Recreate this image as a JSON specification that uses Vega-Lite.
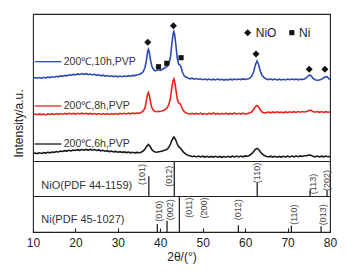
{
"$schema": "https://vega.github.io/schema/vega-lite/v6.json",
"width": 297, "height": 218,
"autosize": {"type": "none"},
"padding": {"left": 33, "top": 14, "right": 19, "bottom": 40},
"config": {"font": "Liberation Sans", "view": {"stroke": "#222", "strokeWidth": 1.1}},
"datasets": {
"xrd": [
{"s":"10h","x":10,"y":153.5},{"s":"10h","x":10.5,"y":154.5},{"s":"10h","x":11,"y":153.8},{"s":"10h","x":11.5,"y":154.4},{"s":"10h","x":12,"y":153.6},{"s":"10h","x":12.5,"y":154.7},{"s":"10h","x":13,"y":154.1},{"s":"10h","x":13.5,"y":155.0},{"s":"10h","x":14,"y":154.4},{"s":"10h","x":14.5,"y":155.2},{"s":"10h","x":15,"y":154.8},{"s":"10h","x":15.5,"y":155.7},{"s":"10h","x":16,"y":155.2},{"s":"10h","x":16.5,"y":156.1},{"s":"10h","x":17,"y":155.8},{"s":"10h","x":17.5,"y":156.6},{"s":"10h","x":18,"y":156.2},{"s":"10h","x":18.5,"y":157.2},{"s":"10h","x":19,"y":156.8},{"s":"10h","x":19.5,"y":157.6},{"s":"10h","x":20,"y":157.1},{"s":"10h","x":20.5,"y":158.1},{"s":"10h","x":21,"y":157.5},{"s":"10h","x":21.5,"y":158.4},{"s":"10h","x":22,"y":157.7},{"s":"10h","x":22.5,"y":158.3},{"s":"10h","x":23,"y":157.4},{"s":"10h","x":23.5,"y":158.0},{"s":"10h","x":24,"y":157.1},{"s":"10h","x":24.5,"y":157.7},{"s":"10h","x":25,"y":156.7},{"s":"10h","x":25.5,"y":157.2},{"s":"10h","x":26,"y":156.2},{"s":"10h","x":26.5,"y":156.8},{"s":"10h","x":27,"y":155.9},{"s":"10h","x":27.5,"y":156.4},{"s":"10h","x":28,"y":155.6},{"s":"10h","x":28.5,"y":156.2},{"s":"10h","x":29,"y":155.4},{"s":"10h","x":29.5,"y":156.0},{"s":"10h","x":30,"y":155.2},{"s":"10h","x":30.5,"y":155.9},{"s":"10h","x":31,"y":155.3},{"s":"10h","x":31.5,"y":156.0},{"s":"10h","x":32,"y":155.5},{"s":"10h","x":32.5,"y":156.3},{"s":"10h","x":33,"y":155.8},{"s":"10h","x":33.5,"y":156.6},{"s":"10h","x":34,"y":156.4},{"s":"10h","x":34.5,"y":157.3},{"s":"10h","x":35,"y":157.5},{"s":"10h","x":35.5,"y":158.4},{"s":"10h","x":36,"y":160.5},{"s":"10h","x":36.4,"y":164.5},{"s":"10h","x":36.7,"y":171},{"s":"10h","x":37.0,"y":180},{"s":"10h","x":37.2,"y":182.7},{"s":"10h","x":37.4,"y":180},{"s":"10h","x":37.7,"y":172},{"s":"10h","x":38.0,"y":166},{"s":"10h","x":38.4,"y":162.5},{"s":"10h","x":38.8,"y":161.2},{"s":"10h","x":39.2,"y":161.8},{"s":"10h","x":39.6,"y":162.2},{"s":"10h","x":40.0,"y":161.7},{"s":"10h","x":40.4,"y":162.5},{"s":"10h","x":40.8,"y":163.5},{"s":"10h","x":41.2,"y":164.5},{"s":"10h","x":41.6,"y":165.5},{"s":"10h","x":42.0,"y":168},{"s":"10h","x":42.4,"y":175},{"s":"10h","x":42.7,"y":187},{"s":"10h","x":43.0,"y":197.5},{"s":"10h","x":43.2,"y":200.3},{"s":"10h","x":43.4,"y":197},{"s":"10h","x":43.7,"y":186},{"s":"10h","x":44.0,"y":174},{"s":"10h","x":44.3,"y":168},{"s":"10h","x":44.6,"y":167},{"s":"10h","x":44.9,"y":165},{"s":"10h","x":45.2,"y":160},{"s":"10h","x":45.6,"y":156.5},{"s":"10h","x":46.0,"y":155},{"s":"10h","x":46.5,"y":154},{"s":"10h","x":47,"y":153.2},{"s":"10h","x":47.5,"y":153.8},{"s":"10h","x":48,"y":152.8},{"s":"10h","x":48.5,"y":153.4},{"s":"10h","x":49,"y":152.5},{"s":"10h","x":49.5,"y":153.2},{"s":"10h","x":50,"y":152.3},{"s":"10h","x":50.5,"y":153.0},{"s":"10h","x":51,"y":152.2},{"s":"10h","x":51.5,"y":152.9},{"s":"10h","x":52,"y":152.0},{"s":"10h","x":52.5,"y":152.8},{"s":"10h","x":53,"y":152.1},{"s":"10h","x":53.5,"y":152.9},{"s":"10h","x":54,"y":152.2},{"s":"10h","x":54.5,"y":152.7},{"s":"10h","x":55,"y":151.9},{"s":"10h","x":55.5,"y":152.6},{"s":"10h","x":56,"y":152.0},{"s":"10h","x":56.5,"y":152.8},{"s":"10h","x":57,"y":152.2},{"s":"10h","x":57.5,"y":152.9},{"s":"10h","x":58,"y":152.3},{"s":"10h","x":58.5,"y":153.0},{"s":"10h","x":59,"y":152.4},{"s":"10h","x":59.5,"y":153.1},{"s":"10h","x":60,"y":152.6},{"s":"10h","x":60.5,"y":153.0},{"s":"10h","x":61,"y":153.5},{"s":"10h","x":61.5,"y":155.5},{"s":"10h","x":62,"y":160},{"s":"10h","x":62.4,"y":167},{"s":"10h","x":62.8,"y":171},{"s":"10h","x":63.2,"y":167},{"s":"10h","x":63.6,"y":160.5},{"s":"10h","x":64.0,"y":156.5},{"s":"10h","x":64.5,"y":154.2},{"s":"10h","x":65,"y":153},{"s":"10h","x":65.5,"y":152.4},{"s":"10h","x":66,"y":153.0},{"s":"10h","x":66.5,"y":152.2},{"s":"10h","x":67,"y":152.9},{"s":"10h","x":67.5,"y":152.1},{"s":"10h","x":68,"y":152.8},{"s":"10h","x":68.5,"y":152.0},{"s":"10h","x":69,"y":152.7},{"s":"10h","x":69.5,"y":152.1},{"s":"10h","x":70,"y":152.9},{"s":"10h","x":70.5,"y":152.3},{"s":"10h","x":71,"y":153.0},{"s":"10h","x":71.5,"y":152.4},{"s":"10h","x":72,"y":152.9},{"s":"10h","x":72.5,"y":152.2},{"s":"10h","x":73,"y":152.8},{"s":"10h","x":73.5,"y":152.6},{"s":"10h","x":74,"y":153},{"s":"10h","x":74.5,"y":154.5},{"s":"10h","x":75.0,"y":156.5},{"s":"10h","x":75.3,"y":157},{"s":"10h","x":75.6,"y":156},{"s":"10h","x":76.0,"y":153.5},{"s":"10h","x":76.5,"y":152.2},{"s":"10h","x":77,"y":151.8},{"s":"10h","x":77.5,"y":152},{"s":"10h","x":78,"y":152.7},{"s":"10h","x":78.5,"y":154.2},{"s":"10h","x":79.0,"y":155.2},{"s":"10h","x":79.3,"y":155.3},{"s":"10h","x":79.6,"y":154},{"s":"10h","x":80,"y":152},
{"s":"8h","x":10,"y":117.2},{"s":"8h","x":10.5,"y":118.0},{"s":"8h","x":11,"y":117.3},{"s":"8h","x":11.5,"y":118.1},{"s":"8h","x":12,"y":117.4},{"s":"8h","x":12.5,"y":117.9},{"s":"8h","x":13,"y":117.1},{"s":"8h","x":13.5,"y":118.2},{"s":"8h","x":14,"y":117.5},{"s":"8h","x":14.5,"y":118.3},{"s":"8h","x":15,"y":117.6},{"s":"8h","x":15.5,"y":118.4},{"s":"8h","x":16,"y":117.7},{"s":"8h","x":16.5,"y":118.5},{"s":"8h","x":17,"y":117.8},{"s":"8h","x":17.5,"y":118.6},{"s":"8h","x":18,"y":117.9},{"s":"8h","x":18.5,"y":118.7},{"s":"8h","x":19,"y":118.0},{"s":"8h","x":19.5,"y":118.6},{"s":"8h","x":20,"y":117.9},{"s":"8h","x":20.5,"y":118.7},{"s":"8h","x":21,"y":118.1},{"s":"8h","x":21.5,"y":118.8},{"s":"8h","x":22,"y":118.0},{"s":"8h","x":22.5,"y":118.7},{"s":"8h","x":23,"y":117.9},{"s":"8h","x":23.5,"y":118.6},{"s":"8h","x":24,"y":117.8},{"s":"8h","x":24.5,"y":118.5},{"s":"8h","x":25,"y":117.7},{"s":"8h","x":25.5,"y":118.4},{"s":"8h","x":26,"y":117.6},{"s":"8h","x":26.5,"y":118.4},{"s":"8h","x":27,"y":117.5},{"s":"8h","x":27.5,"y":118.3},{"s":"8h","x":28,"y":117.6},{"s":"8h","x":28.5,"y":118.4},{"s":"8h","x":29,"y":117.7},{"s":"8h","x":29.5,"y":118.5},{"s":"8h","x":30,"y":117.8},{"s":"8h","x":30.5,"y":118.6},{"s":"8h","x":31,"y":118.0},{"s":"8h","x":31.5,"y":118.7},{"s":"8h","x":32,"y":118.1},{"s":"8h","x":32.5,"y":118.8},{"s":"8h","x":33,"y":118.2},{"s":"8h","x":33.5,"y":118.9},{"s":"8h","x":34,"y":118.4},{"s":"8h","x":34.5,"y":119.0},{"s":"8h","x":35,"y":118.7},{"s":"8h","x":35.5,"y":119.5},{"s":"8h","x":36,"y":121},{"s":"8h","x":36.4,"y":124},{"s":"8h","x":36.7,"y":131},{"s":"8h","x":37.0,"y":137.5},{"s":"8h","x":37.2,"y":139.5},{"s":"8h","x":37.4,"y":137},{"s":"8h","x":37.7,"y":130},{"s":"8h","x":38.0,"y":124.5},{"s":"8h","x":38.4,"y":121.5},{"s":"8h","x":38.8,"y":120.5},{"s":"8h","x":39.2,"y":120.2},{"s":"8h","x":39.6,"y":120.7},{"s":"8h","x":40.0,"y":120.5},{"s":"8h","x":40.5,"y":121.2},{"s":"8h","x":41.0,"y":122},{"s":"8h","x":41.5,"y":123.5},{"s":"8h","x":42.0,"y":127},{"s":"8h","x":42.4,"y":134},{"s":"8h","x":42.7,"y":144},{"s":"8h","x":43.0,"y":151},{"s":"8h","x":43.2,"y":153},{"s":"8h","x":43.4,"y":150},{"s":"8h","x":43.7,"y":142},{"s":"8h","x":44.0,"y":133},{"s":"8h","x":44.3,"y":129},{"s":"8h","x":44.6,"y":128.5},{"s":"8h","x":44.9,"y":126.5},{"s":"8h","x":45.2,"y":123},{"s":"8h","x":45.6,"y":120.5},{"s":"8h","x":46,"y":119.2},{"s":"8h","x":46.5,"y":118.4},{"s":"8h","x":47,"y":118.0},{"s":"8h","x":47.5,"y":118.7},{"s":"8h","x":48,"y":117.9},{"s":"8h","x":48.5,"y":118.6},{"s":"8h","x":49,"y":117.8},{"s":"8h","x":49.5,"y":118.9},{"s":"8h","x":50,"y":117.7},{"s":"8h","x":50.5,"y":118.5},{"s":"8h","x":51,"y":117.6},{"s":"8h","x":51.5,"y":118.8},{"s":"8h","x":52,"y":117.8},{"s":"8h","x":52.5,"y":119.0},{"s":"8h","x":53,"y":117.9},{"s":"8h","x":53.5,"y":118.6},{"s":"8h","x":54,"y":117.6},{"s":"8h","x":54.5,"y":118.7},{"s":"8h","x":55,"y":117.8},{"s":"8h","x":55.5,"y":118.9},{"s":"8h","x":56,"y":117.7},{"s":"8h","x":56.5,"y":118.6},{"s":"8h","x":57,"y":117.9},{"s":"8h","x":57.5,"y":119.1},{"s":"8h","x":58,"y":117.8},{"s":"8h","x":58.5,"y":118.7},{"s":"8h","x":59,"y":117.9},{"s":"8h","x":59.5,"y":118.8},{"s":"8h","x":60,"y":118.1},{"s":"8h","x":60.5,"y":118.4},{"s":"8h","x":61,"y":119},{"s":"8h","x":61.5,"y":120},{"s":"8h","x":62,"y":122.5},{"s":"8h","x":62.4,"y":125.5},{"s":"8h","x":62.8,"y":126.5},{"s":"8h","x":63.2,"y":125},{"s":"8h","x":63.6,"y":122},{"s":"8h","x":64,"y":120},{"s":"8h","x":64.5,"y":119},{"s":"8h","x":65,"y":119.4},{"s":"8h","x":65.5,"y":120.0},{"s":"8h","x":66,"y":119.2},{"s":"8h","x":66.5,"y":120.1},{"s":"8h","x":67,"y":119.3},{"s":"8h","x":67.5,"y":120.2},{"s":"8h","x":68,"y":119.4},{"s":"8h","x":68.5,"y":120.0},{"s":"8h","x":69,"y":119.2},{"s":"8h","x":69.5,"y":120.1},{"s":"8h","x":70,"y":119.4},{"s":"8h","x":70.5,"y":120.2},{"s":"8h","x":71,"y":119.5},{"s":"8h","x":71.5,"y":120.3},{"s":"8h","x":72,"y":119.6},{"s":"8h","x":72.5,"y":120.4},{"s":"8h","x":73,"y":119.8},{"s":"8h","x":73.5,"y":120.4},{"s":"8h","x":74,"y":120.0},{"s":"8h","x":74.5,"y":120.5},{"s":"8h","x":75,"y":121.4},{"s":"8h","x":75.5,"y":121.7},{"s":"8h","x":76,"y":120.6},{"s":"8h","x":76.5,"y":119.8},{"s":"8h","x":77,"y":120.4},{"s":"8h","x":77.5,"y":119.7},{"s":"8h","x":78,"y":120.4},{"s":"8h","x":78.5,"y":119.6},{"s":"8h","x":79,"y":120.3},{"s":"8h","x":79.5,"y":119.8},{"s":"8h","x":80,"y":120.0},
{"s":"6h","x":10,"y":78.3},{"s":"6h","x":10.5,"y":79.0},{"s":"6h","x":11,"y":78.4},{"s":"6h","x":11.5,"y":79.2},{"s":"6h","x":12,"y":78.6},{"s":"6h","x":12.5,"y":79.4},{"s":"6h","x":13,"y":78.9},{"s":"6h","x":13.5,"y":79.7},{"s":"6h","x":14,"y":79.2},{"s":"6h","x":14.5,"y":80.0},{"s":"6h","x":15,"y":79.6},{"s":"6h","x":15.5,"y":80.4},{"s":"6h","x":16,"y":80.0},{"s":"6h","x":16.5,"y":80.9},{"s":"6h","x":17,"y":80.5},{"s":"6h","x":17.5,"y":81.3},{"s":"6h","x":18,"y":80.9},{"s":"6h","x":18.5,"y":81.7},{"s":"6h","x":19,"y":81.2},{"s":"6h","x":19.5,"y":82.0},{"s":"6h","x":20,"y":81.5},{"s":"6h","x":20.5,"y":82.3},{"s":"6h","x":21,"y":81.7},{"s":"6h","x":21.5,"y":82.5},{"s":"6h","x":22,"y":81.8},{"s":"6h","x":22.5,"y":82.6},{"s":"6h","x":23,"y":81.9},{"s":"6h","x":23.5,"y":82.6},{"s":"6h","x":24,"y":81.8},{"s":"6h","x":24.5,"y":82.4},{"s":"6h","x":25,"y":81.5},{"s":"6h","x":25.5,"y":82.1},{"s":"6h","x":26,"y":81.2},{"s":"6h","x":26.5,"y":81.7},{"s":"6h","x":27,"y":80.8},{"s":"6h","x":27.5,"y":81.3},{"s":"6h","x":28,"y":80.4},{"s":"6h","x":28.5,"y":80.9},{"s":"6h","x":29,"y":80.1},{"s":"6h","x":29.5,"y":80.6},{"s":"6h","x":30,"y":79.8},{"s":"6h","x":30.5,"y":80.3},{"s":"6h","x":31,"y":79.6},{"s":"6h","x":31.5,"y":80.1},{"s":"6h","x":32,"y":79.4},{"s":"6h","x":32.5,"y":79.9},{"s":"6h","x":33,"y":79.2},{"s":"6h","x":33.5,"y":79.7},{"s":"6h","x":34,"y":79.1},{"s":"6h","x":34.5,"y":79.6},{"s":"6h","x":35,"y":79.2},{"s":"6h","x":35.5,"y":79.7},{"s":"6h","x":36,"y":81},{"s":"6h","x":36.4,"y":83},{"s":"6h","x":36.8,"y":85.7},{"s":"6h","x":37.2,"y":87.5},{"s":"6h","x":37.6,"y":85.5},{"s":"6h","x":38.0,"y":82.5},{"s":"6h","x":38.4,"y":80.8},{"s":"6h","x":38.8,"y":80},{"s":"6h","x":39.2,"y":79.8},{"s":"6h","x":39.6,"y":80.3},{"s":"6h","x":40,"y":80.5},{"s":"6h","x":40.5,"y":81},{"s":"6h","x":41,"y":81.7},{"s":"6h","x":41.5,"y":82.5},{"s":"6h","x":42,"y":84.5},{"s":"6h","x":42.4,"y":88},{"s":"6h","x":42.8,"y":92.5},{"s":"6h","x":43.2,"y":95},{"s":"6h","x":43.6,"y":92.5},{"s":"6h","x":44.0,"y":88},{"s":"6h","x":44.3,"y":85.5},{"s":"6h","x":44.6,"y":84.5},{"s":"6h","x":45.0,"y":82.5},{"s":"6h","x":45.4,"y":80},{"s":"6h","x":46,"y":78},{"s":"6h","x":46.5,"y":76.8},{"s":"6h","x":47,"y":76.2},{"s":"6h","x":47.5,"y":75.3},{"s":"6h","x":48,"y":76.0},{"s":"6h","x":48.5,"y":75.1},{"s":"6h","x":49,"y":75.9},{"s":"6h","x":49.5,"y":75.0},{"s":"6h","x":50,"y":75.8},{"s":"6h","x":50.5,"y":74.9},{"s":"6h","x":51,"y":75.7},{"s":"6h","x":51.5,"y":74.8},{"s":"6h","x":52,"y":75.6},{"s":"6h","x":52.5,"y":74.9},{"s":"6h","x":53,"y":75.7},{"s":"6h","x":53.5,"y":74.8},{"s":"6h","x":54,"y":75.6},{"s":"6h","x":54.5,"y":74.7},{"s":"6h","x":55,"y":75.5},{"s":"6h","x":55.5,"y":74.8},{"s":"6h","x":56,"y":75.7},{"s":"6h","x":56.5,"y":74.9},{"s":"6h","x":57,"y":75.8},{"s":"6h","x":57.5,"y":75.0},{"s":"6h","x":58,"y":75.9},{"s":"6h","x":58.5,"y":75.1},{"s":"6h","x":59,"y":76.0},{"s":"6h","x":59.5,"y":75.2},{"s":"6h","x":60,"y":76.1},{"s":"6h","x":60.5,"y":75.8},{"s":"6h","x":61,"y":76.5},{"s":"6h","x":61.5,"y":78},{"s":"6h","x":62,"y":80.5},{"s":"6h","x":62.4,"y":82.7},{"s":"6h","x":62.8,"y":83.5},{"s":"6h","x":63.2,"y":82.5},{"s":"6h","x":63.6,"y":80},{"s":"6h","x":64,"y":78},{"s":"6h","x":64.5,"y":76.5},{"s":"6h","x":65,"y":75.7},{"s":"6h","x":65.5,"y":75.0},{"s":"6h","x":66,"y":75.8},{"s":"6h","x":66.5,"y":74.9},{"s":"6h","x":67,"y":75.7},{"s":"6h","x":67.5,"y":74.8},{"s":"6h","x":68,"y":75.6},{"s":"6h","x":68.5,"y":74.9},{"s":"6h","x":69,"y":75.7},{"s":"6h","x":69.5,"y":75.0},{"s":"6h","x":70,"y":75.8},{"s":"6h","x":70.5,"y":75.1},{"s":"6h","x":71,"y":75.9},{"s":"6h","x":71.5,"y":75.2},{"s":"6h","x":72,"y":76.0},{"s":"6h","x":72.5,"y":75.3},{"s":"6h","x":73,"y":76.1},{"s":"6h","x":73.5,"y":75.5},{"s":"6h","x":74,"y":76.2},{"s":"6h","x":74.5,"y":76.3},{"s":"6h","x":75,"y":77.0},{"s":"6h","x":75.5,"y":76.8},{"s":"6h","x":76,"y":75.8},{"s":"6h","x":76.5,"y":75.2},{"s":"6h","x":77,"y":75.9},{"s":"6h","x":77.5,"y":75.1},{"s":"6h","x":78,"y":75.8},{"s":"6h","x":78.5,"y":75.2},{"s":"6h","x":79,"y":75.9},{"s":"6h","x":79.5,"y":75.3},{"s":"6h","x":80,"y":75.6}
],
"ref": [
{"x":37.3,"y":35.5,"y2":55.7},{"x":43.3,"y":35.5,"y2":70.5},{"x":62.85,"y":35.5,"y2":49},{"x":75.3,"y":35.5,"y2":42.3},{"x":79.3,"y":35.5,"y2":41.7},
{"x":39.3,"y":0,"y2":8},{"x":41.6,"y":0,"y2":11.3},{"x":44.5,"y":0,"y2":35.5},{"x":58.4,"y":0,"y2":6.7},{"x":70.9,"y":0,"y2":6.3},{"x":77.9,"y":0,"y2":5.7}
],
"hkl": [
{"x":35.6,"y":57.5,"t":"(101)"},{"x":42.0,"y":55.7,"t":"(012)"},{"x":62.7,"y":59,"t":"(110)"},{"x":75.9,"y":48,"t":"(113)"},{"x":79.2,"y":51.5,"t":"(202)"},
{"x":39.6,"y":20.7,"t":"(010)"},{"x":42.2,"y":22.3,"t":"(002)"},{"x":46.7,"y":24.3,"t":"(011)"},{"x":50.4,"y":24,"t":"(200)"},{"x":58.2,"y":22.3,"t":"(012)"},{"x":71.6,"y":17.3,"t":"(110)"},{"x":78.4,"y":17.3,"t":"(013)"}
],
"panels": [
{"x":11.96,"y":46,"t":"NiO(PDF 44-1159)"},{"x":11.96,"y":12,"t":"Ni(PDF 45-1027)"}
],
"legend": [
{"s":"10h","x":10.4,"x2":16.7,"y":170.3,"tx":17.25,"t":"200℃,10h,PVP"},
{"s":"8h","x":10.4,"x2":16.7,"y":126,"tx":17.25,"t":"200℃,8h,PVP"},
{"s":"6h","x":10.4,"x2":16.7,"y":88,"tx":17.25,"t":"200℃,6h,PVP"}
],
"peaks": [
{"p":"NiO","x":37.06,"y":189.7},{"p":"NiO","x":43.1,"y":206.3},{"p":"NiO","x":62.56,"y":178},{"p":"NiO","x":75.1,"y":162.7},{"p":"NiO","x":78.8,"y":162.7},
{"p":"Ni","x":39.58,"y":165.3},{"p":"Ni","x":41.53,"y":168.7},{"p":"Ni","x":44.9,"y":174.3},
{"p":"NiO","x":60.6,"y":199.3},{"p":"Ni","x":71.0,"y":199.3}
],
"keys": [
{"x":62.5,"y":199.3,"t":"NiO"},{"x":72.7,"y":199.3,"t":"Ni"}
]
},
"layer": [
{
"data": {"name": "xrd"},
"mark": {"type": "line", "strokeWidth": 1.6, "clip": true},
"encoding": {
"x": {"field": "x", "type": "quantitative", "scale": {"domain": [10, 80], "nice": false, "zero": false},
 "axis": {"values": [10,20,30,40,50,60,70,80], "grid": false, "domain": false, "tickSize": -4, "tickColor": "#222", "tickWidth": 1.1, "labelPadding": 9, "labelFlush": false, "labelFontSize": 12, "labelColor": "#222", "title": "2θ/(°)", "titleFontSize": 12, "titleFontWeight": "normal", "titleColor": "#222", "titleY": 24, "titleBaseline": "middle"}},
"y": {"field": "y", "type": "quantitative", "scale": {"domain": [0, 218], "nice": false, "zero": false},
 "axis": {"labels": false, "ticks": false, "domain": false, "grid": false, "title": "Intensity/a.u.", "titleFontSize": 12, "titleFontWeight": "normal", "titleColor": "#222", "titlePadding": 8}},
"color": {"field": "s", "type": "nominal", "scale": {"domain": ["10h","8h","6h"], "range": ["#2b4cb3","#e8261e","#1a1a1a"]}, "legend": null},
"order": {"field": "x", "type": "quantitative"}
}
},
{
"data": {"values": [{"y": 70.5}, {"y": 35.5}]},
"mark": {"type": "rule", "color": "#222", "strokeWidth": 1.1},
"encoding": {"y": {"field": "y", "type": "quantitative"}}
},
{
"data": {"name": "ref"},
"mark": {"type": "rule", "color": "#222", "strokeWidth": 1.3},
"encoding": {"x": {"field": "x", "type": "quantitative"}, "y": {"field": "y", "type": "quantitative"}, "y2": {"field": "y2"}}
},
{
"data": {"name": "hkl"},
"mark": {"type": "text", "angle": 270, "align": "center", "baseline": "middle", "fontSize": 9, "color": "#444"},
"encoding": {"x": {"field": "x", "type": "quantitative"}, "y": {"field": "y", "type": "quantitative"}, "text": {"field": "t"}}
},
{
"data": {"name": "panels"},
"mark": {"type": "text", "align": "left", "baseline": "middle", "fontSize": 11, "color": "#333"},
"encoding": {"x": {"field": "x", "type": "quantitative"}, "y": {"field": "y", "type": "quantitative"}, "text": {"field": "t"}}
},
{
"data": {"name": "legend"},
"mark": {"type": "rule", "strokeWidth": 1.3},
"encoding": {"x": {"field": "x", "type": "quantitative"}, "x2": {"field": "x2"}, "y": {"field": "y", "type": "quantitative"}, "color": {"field": "s", "type": "nominal"}}
},
{
"data": {"name": "legend"},
"mark": {"type": "text", "align": "left", "baseline": "middle", "fontSize": 10.5, "color": "#333"},
"encoding": {"x": {"field": "tx", "type": "quantitative"}, "y": {"field": "y", "type": "quantitative"}, "text": {"field": "t"}}
},
{
"data": {"name": "peaks"},
"mark": {"type": "point", "filled": true, "opacity": 1, "color": "#111"},
"encoding": {"x": {"field": "x", "type": "quantitative"}, "y": {"field": "y", "type": "quantitative"},
 "shape": {"field": "p", "type": "nominal", "scale": {"domain": ["NiO","Ni"], "range": ["diamond","square"]}, "legend": null},
 "size": {"field": "p", "type": "nominal", "scale": {"domain": ["NiO","Ni"], "range": [50, 26]}, "legend": null}}
},
{
"data": {"name": "keys"},
"mark": {"type": "text", "align": "left", "baseline": "middle", "fontSize": 12, "color": "#222"},
"encoding": {"x": {"field": "x", "type": "quantitative"}, "y": {"field": "y", "type": "quantitative"}, "text": {"field": "t"}}
}
]
}
